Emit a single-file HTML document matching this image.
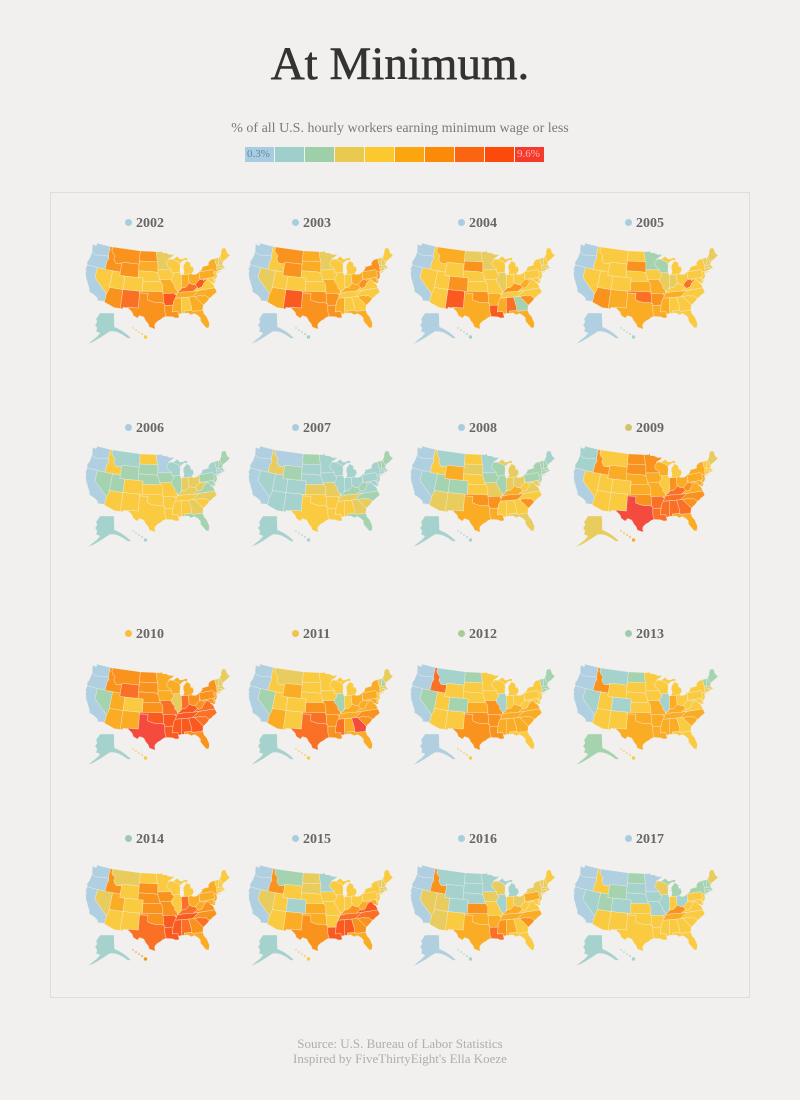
<!DOCTYPE html>
<html>
<head>
<meta charset="utf-8">
<style>
  html,body{margin:0;padding:0;}
  body{width:800px;height:1100px;background:#f1f0ee;position:relative;overflow:hidden;font-family:"Liberation Serif",serif;}
  .abs{position:absolute;}
  #title{left:0;width:800px;top:36px;text-align:center;font-size:47px;color:#333;line-height:56px;-webkit-text-stroke:0.6px #333;}
  #sub{left:0;width:800px;top:120px;text-align:center;font-size:14px;color:#7a7a7a;line-height:17px;}
  #legend{left:245px;top:147px;height:15px;width:300px;}
  #legend div{position:absolute;top:0;width:29px;height:15px;}
  .lt{position:absolute;top:0;font-size:11px;line-height:15px;}
  #panel{left:50px;top:192px;width:698px;height:804px;border:1px solid #e0ddd9;}
  .yl{position:absolute;font-size:14px;font-weight:bold;color:#666;line-height:16px;white-space:nowrap;}
  .yl span{display:inline-block;width:7px;height:7px;border-radius:50%;margin-right:4px;vertical-align:1px;}
  .foot{left:0;width:800px;text-align:center;font-size:13px;color:#b0adaa;line-height:15px;}
  svg{position:absolute;left:0;top:0;}
</style>
</head>
<body>
<div id="title" class="abs">At Minimum.</div>
<div id="sub" class="abs">% of all U.S. hourly workers earning minimum wage or less</div>
<div id="legend" class="abs">
  <div style="left:0;background:#a9cde0"></div>
  <div style="left:30px;background:#9ecfcb"></div>
  <div style="left:60px;background:#9dd0a9"></div>
  <div style="left:90px;background:#e9c94f"></div>
  <div style="left:120px;background:#fbc82e"></div>
  <div style="left:150px;background:#fba50f"></div>
  <div style="left:180px;background:#fb8a08"></div>
  <div style="left:210px;background:#fb6410"></div>
  <div style="left:240px;background:#fb4a0a"></div>
  <div style="left:270px;background:#f53a2c"></div>
  <span class="lt" style="left:2px;color:#5f88a3">0.3%</span>
  <span class="lt" style="left:272px;color:#fbb8b0">9.6%</span>
</div>
<div id="panel" class="abs"></div>

<div class="yl" style="left:125px;top:216px"><span style="background:#a9cde0"></span>2002</div>
<div class="yl" style="left:292px;top:216px"><span style="background:#a9cde0"></span>2003</div>
<div class="yl" style="left:458px;top:216px"><span style="background:#a9cde0"></span>2004</div>
<div class="yl" style="left:625px;top:216px"><span style="background:#a9cde0"></span>2005</div>
<div class="yl" style="left:125px;top:421px"><span style="background:#a9cde0"></span>2006</div>
<div class="yl" style="left:292px;top:421px"><span style="background:#a9cde0"></span>2007</div>
<div class="yl" style="left:458px;top:421px"><span style="background:#a9cde0"></span>2008</div>
<div class="yl" style="left:625px;top:421px"><span style="background:#d2c46a"></span>2009</div>
<div class="yl" style="left:125px;top:627px"><span style="background:#f8c03a"></span>2010</div>
<div class="yl" style="left:292px;top:627px"><span style="background:#f2c24a"></span>2011</div>
<div class="yl" style="left:458px;top:627px"><span style="background:#a8cc98"></span>2012</div>
<div class="yl" style="left:625px;top:627px"><span style="background:#9ccbb0"></span>2013</div>
<div class="yl" style="left:125px;top:832px"><span style="background:#9dcab8"></span>2014</div>
<div class="yl" style="left:292px;top:832px"><span style="background:#a9cde0"></span>2015</div>
<div class="yl" style="left:458px;top:832px"><span style="background:#a9cde0"></span>2016</div>
<div class="yl" style="left:625px;top:832px"><span style="background:#a9cde0"></span>2017</div>

<div class="abs foot" style="top:1036px">Source: U.S. Bureau of Labor Statistics</div>
<div class="abs foot" style="top:1051px">Inspired by FiveThirtyEight's Ella Koeze</div>

<svg id="maps" width="800" height="1100" viewBox="0 0 800 1100" xmlns="http://www.w3.org/2000/svg"></svg>

<script>
(function(){
var K="WA OR CA NV ID MT WY UT CO AZ NM ND SD NE KS OK TX MN IA MO AR LA WI IL MI IN OH KY WV TN MS AL GA FL SC NC VA MD DE PA NJ NY CT RI MA VT NH ME".split(" ");
var G={
WA:"-124,46.3 -122.8,45.6 -121,45.6 -119,46 -116.9,46 -117.04,47 -117.04,49 -123.3,49 -122.8,48.5 -123.2,48.2 -124.7,48.4 -124.2,47",
OR:"-124.6,42.8 -124.2,42 -120,42 -117.03,42 -117.03,44.3 -116.5,45.5 -116.9,46 -119,46 -121,45.6 -122.8,45.6 -124,46.3 -123.9,45.5 -124.1,44",
CA:"-124.2,42 -120,42 -120,39 -114.6,35 -114.6,34.2 -114.7,32.7 -117.1,32.5 -117.3,33.2 -118.4,33.8 -119.2,34.1 -120.6,34.5 -120.9,35.4 -121.9,36.6 -122.5,37.5 -123,38 -123.8,39.5 -123.9,40.5 -124.4,40.4 -124.2,41.5",
NV:"-120,42 -114.04,42 -114.04,36.2 -114.6,35 -120,39",
ID:"-117.04,49 -116.05,49 -116.05,47.98 -115.7,47.4 -114.3,46.6 -114.5,45.5 -113.4,44.4 -112.4,44.4 -111.05,44.5 -111.05,42 -117.03,42 -117.03,44.3 -116.5,45.5 -116.9,46 -117.04,47",
MT:"-116.05,49 -104.05,49 -104.05,45 -111.05,45 -111.05,44.5 -112.4,44.4 -113.4,44.4 -114.5,45.5 -114.3,46.6 -115.7,47.4 -116.05,47.98",
WY:"-111.05,45 -104.05,45 -104.05,41 -111.05,41",
UT:"-114.04,42 -111.05,42 -111.05,41 -109.05,41 -109.05,37 -114.04,37",
CO:"-109.05,41 -102.05,41 -102.05,37 -109.05,37",
AZ:"-114.04,37 -109.05,37 -109.05,31.33 -111.07,31.33 -114.8,32.5 -114.7,32.7 -114.6,34.2 -114.6,35 -114.04,36.2",
NM:"-109.05,37 -103,37 -103,32 -106.62,32 -106.5,31.78 -108.2,31.78 -108.2,31.33 -109.05,31.33",
ND:"-104.05,49 -97.23,49 -96.8,46.6 -96.56,45.93 -104.05,45.94",
SD:"-104.05,45.94 -96.56,45.93 -96.45,45.3 -96.45,43.5 -96.6,42.7 -97,42.8 -98.5,43 -104.05,43",
NE:"-104.05,43 -98.5,43 -97,42.8 -96.6,42.7 -96.4,42.5 -96,41.5 -95.8,40.6 -95.3,40 -102.05,40 -102.05,41 -104.05,41",
KS:"-102.05,40 -95.3,40 -94.62,39.1 -94.62,37 -102.05,37",
OK:"-103,37 -94.62,37 -94.43,35.4 -94.48,33.64 -95.5,33.9 -96.5,33.8 -97.5,33.9 -98.5,34.1 -100,34.56 -100,36.5 -103,36.5",
TX:"-106.62,32 -103,32 -103,36.5 -100,36.5 -100,34.56 -98.5,34.1 -97.5,33.9 -96.5,33.8 -95.5,33.9 -94.48,33.64 -94.04,33.55 -94.04,31 -93.7,30.1 -93.8,29.7 -94.7,29.4 -95.5,28.8 -96.5,28.3 -97.3,27.5 -97.4,26.8 -97.15,25.95 -97.7,26.05 -99.1,26.5 -99.5,27.5 -100.3,28.3 -101,29.4 -102.4,29.8 -103.1,29 -104.5,29.7 -105,30.7 -106.5,31.78",
MN:"-97.23,49 -95.15,49 -95.15,49.38 -94.8,49.3 -94.6,48.7 -93,48.6 -91.5,48.05 -89.5,48 -90.7,47.3 -92.1,46.75 -92.3,46.1 -92.9,45.6 -92.7,44.7 -91.2,43.8 -91.2,43.5 -96.45,43.5 -96.45,45.3 -96.56,45.93 -96.8,46.6",
IA:"-96.45,43.5 -91.2,43.5 -91.1,42.7 -90.64,42.5 -90.2,42.1 -90.4,41.6 -91,41.2 -91.4,40.4 -91.7,40.6 -95.8,40.6 -96,41.5 -96.4,42.5 -96.6,42.7",
MO:"-95.8,40.6 -91.7,40.6 -91.4,40.4 -91,39.6 -90.2,38.9 -90.2,38 -89.5,37.4 -89.5,37.2 -89.2,36.6 -89.5,36.5 -89.7,36 -90.4,36 -90.15,36.5 -94.62,36.5 -94.62,39.1 -95.3,40",
AR:"-94.62,36.5 -90.15,36.5 -90.4,36 -89.7,36 -90.3,35 -91,34 -91.2,33 -94.04,33 -94.04,33.55 -94.48,33.64 -94.43,35.4",
LA:"-94.04,33 -91.2,33 -91.6,31 -89.75,31 -89.6,30.2 -89.4,29.2 -90.5,29.1 -91.5,29.5 -92.3,29.6 -93.8,29.7 -93.7,30.1 -94.04,31",
WI:"-92.9,45.6 -92.3,46.1 -92.1,46.7 -90.4,46.6 -89.1,46.1 -88.1,45.8 -87.6,45.1 -87.5,44.5 -87.8,43.2 -87.8,42.5 -90.64,42.5 -91.1,42.7 -91.2,43.5 -91.2,43.8 -92.7,44.7",
IL:"-90.64,42.5 -87.8,42.5 -87.5,41.7 -87.53,39.4 -87.6,38.7 -88,37.8 -88.1,37.5 -88.5,37.1 -89.1,37 -89.5,37.2 -89.5,37.4 -90.2,38 -90.2,38.9 -91,39.6 -91.4,40.4 -91,41.2 -90.4,41.6 -90.2,42.1",
MI:"-86.8,41.76 -84.8,41.76 -83.45,41.73 -83.1,42.1 -82.5,42.6 -82.4,43 -82.6,43.9 -83.4,44 -83.3,45 -84.7,45.8 -85.4,45.2 -86.2,44.6 -86.4,43.6 -86.2,42.6|-90.4,46.6 -89.1,46.1 -88.1,45.8 -87.6,45.1 -86.5,45.8 -85.5,46.1 -84.7,45.9 -84.1,46.5 -85,46.75 -86.5,46.45 -87.4,46.5 -88.4,47.4 -89.6,46.8",
IN:"-87.5,41.7 -86.8,41.76 -84.8,41.76 -84.8,39.1 -85.9,38.2 -86.5,37.9 -87.6,37.9 -88,37.8 -87.6,38.7 -87.53,39.4",
OH:"-84.8,41.76 -83.45,41.73 -82.7,41.45 -81.5,41.5 -80.52,41.98 -80.52,40.64 -80.65,40.4 -80.9,39.6 -81.7,39.2 -82.6,38.4 -83.7,38.6 -84.8,39.1",
KY:"-89.5,36.5 -88.05,36.5 -88.07,36.68 -83.7,36.6 -82,37.5 -82.6,38.4 -83.7,38.6 -84.8,39.1 -85.9,38.2 -86.5,37.9 -87.6,37.9 -88.1,37.5 -88.5,37.1 -89.1,37 -89.2,36.6",
WV:"-82.6,38.4 -82,37.5 -81.7,37.2 -80.3,37.5 -79.5,38.5 -78.4,39.2 -77.8,39.3 -78.4,39.6 -79.48,39.72 -80.52,39.72 -80.52,40.64 -80.65,40.4 -80.9,39.6 -81.7,39.2",
TN:"-90.3,35 -84.3,35 -81.7,36.6 -83.7,36.6 -88.07,36.68 -88.05,36.5 -89.5,36.5 -89.7,36",
MS:"-90.3,35 -88.2,35 -88.5,31.9 -88.4,30.4 -89.6,30.2 -89.75,31 -91.6,31 -91.2,33 -91,34",
AL:"-88.2,35 -85.6,35 -85,32 -85,31 -87.6,31 -87.5,30.3 -88.4,30.4 -88.5,31.9",
GA:"-85.6,35 -83.1,35 -83.3,34.7 -82.2,33.6 -81,32.1 -81.4,30.7 -82.2,30.57 -84.86,30.7 -85,31 -85,32",
FL:"-87.6,31 -85,31 -84.86,30.7 -82.2,30.57 -81.4,30.7 -81.2,29.5 -80.5,28.5 -80,26.5 -80.4,25.2 -81.2,25.2 -81.8,26.1 -82.7,27.5 -82.6,28.5 -83.3,29.3 -84.3,30 -85.4,29.7 -86.5,30.4 -87.5,30.3",
SC:"-83.1,35 -80.9,35.1 -80.8,34.8 -79.7,34.8 -78.5,33.85 -79.2,33.2 -80.8,32.2 -81,32.1 -82.2,33.6 -83.3,34.7",
NC:"-84.3,35 -83.1,35 -80.9,35.1 -80.8,34.8 -79.7,34.8 -78.5,33.85 -77.9,34 -77,34.6 -76.5,34.7 -75.5,35.3 -75.9,36.55 -81.7,36.6",
VA:"-83.7,36.6 -75.9,36.55 -76,37.2 -76.3,37.9 -77,38.4 -77.1,38.9 -77.5,39.2 -77.8,39.3 -78.4,39.2 -79.5,38.5 -80.3,37.5 -81.7,37.2 -82,37.5",
MD:"-79.48,39.72 -75.79,39.72 -75.7,38.46 -75.05,38.45 -75.3,38 -76,37.95 -76.4,38.3 -77,38.4 -77.1,38.9 -77.5,39.2 -77.8,39.3 -78.4,39.6 -79.48,39.2",
DE:"-75.79,39.72 -75.4,39.8 -75.05,38.45 -75.7,38.46",
PA:"-80.52,39.72 -80.52,41.98 -79.76,42.27 -79.76,42 -75.35,42 -74.7,41.35 -75.1,40.8 -74.7,40.15 -75.4,39.8 -75.79,39.72",
NJ:"-74.7,41.35 -73.9,41 -74,40.7 -74,40.3 -74.1,39.7 -74.9,38.93 -75.5,39.6 -74.7,40.15 -75.1,40.8",
NY:"-79.76,42 -79.76,42.27 -79,42.9 -79,43.3 -76.3,43.5 -76.2,44.2 -75,44.9 -73.35,45.01 -73.4,43.6 -73.26,42.75 -73.5,42.05 -73.65,41 -73.9,41 -74.7,41.35 -75.35,42|-74,40.6 -72,40.95 -71.9,41.1 -73.7,40.9",
CT:"-73.5,42.05 -71.8,42.02 -71.85,41.32 -72.9,41.25 -73.65,41",
RI:"-71.8,42.02 -71.85,41.32 -71.1,41.5 -71.4,42.02",
MA:"-73.5,42.05 -73.26,42.75 -71.3,42.7 -70.6,42.65 -70.9,42.3 -70.5,41.8 -70,41.75 -70.65,41.55 -71.1,41.5 -71.4,42.02 -71.8,42.02",
VT:"-73.26,42.75 -72.46,42.73 -72.3,43.5 -72,44.3 -71.5,45.01 -73.35,45.01 -73.4,43.6",
NH:"-72.46,42.73 -71.3,42.7 -70.7,43.05 -70.98,43.8 -71.08,45.3 -71.5,45.01 -72,44.3 -72.3,43.5",
ME:"-70.7,43.05 -70.2,43.7 -69,44 -68,44.4 -67,44.8 -67.8,45.7 -67.8,47.06 -68.3,47.35 -69.2,47.45 -70,46.7 -70.3,45.9 -71.08,45.3 -70.98,43.8"
};
var Y=[
"0 0 0 4 6 6 6 4 4 6 7 6 5 4 4 6 6 3 4 5 8 6 4 4 4 5 5 7 8 5 5 4 5 5 5 5 4 4 4 5 4 5 3 3 3 3 3 4 1 4",
"0 0 0 3 4 6 6 4 4 5 8 5 5 4 4 6 6 3 4 5 6 6 4 4 4 4 5 5 6 4 5 4 4 5 5 4 4 5 5 5 6 6 3 3 3 3 3 4 0 2",
"0 0 0 4 4 5 4 4 6 4 8 3 6 4 4 6 5 3 4 4 5 8 4 3 4 4 4 6 5 4 5 7 2 5 6 4 4 4 4 4 4 4 3 3 3 3 4 4 0 2",
"0 0 0 4 4 4 4 4 4 6 5 4 6 4 5 7 5 2 4 5 6 5 2 3 4 3 4 4 7 5 5 4 4 4 4 4 4 4 4 4 4 4 3 3 3 3 3 3 0 1",
"0 0 0 2 4 1 2 2 4 4 4 4 2 2 4 4 4 0 2 4 4 4 1 2 1 3 3 3 3 4 4 4 3 2 4 3 2 2 2 2 2 1 1 1 1 2 2 2 1 1",
"0 0 0 1 3 0 2 1 1 1 1 2 1 1 3 4 4 1 1 3 4 4 1 1 1 1 1 2 2 3 4 4 3 2 3 2 1 1 1 1 1 1 1 1 1 2 2 2 1 1",
"0 0 0 1 4 1 5 2 2 3 3 4 3 4 4 6 5 1 2 3 6 5 2 2 3 3 3 5 4 6 4 4 4 3 6 4 3 3 3 2 2 2 2 2 2 2 2 1 1 1",
"1 1 0 4 6 4 5 4 4 4 4 6 6 5 5 6 9 6 5 5 7 7 5 4 4 6 5 7 6 7 7 7 7 5 6 6 5 5 5 5 5 5 4 4 4 4 4 3 3 5",
"0 0 0 2 6 6 7 5 4 5 5 6 6 6 6 8 9 5 5 7 8 8 5 3 5 7 6 8 6 8 8 8 8 6 7 7 7 6 6 6 5 6 3 3 3 3 3 3 1 4",
"0 0 0 2 4 3 5 4 4 5 4 4 4 4 6 7 7 4 4 6 6 6 4 2 4 4 5 5 5 5 7 5 9 5 6 6 5 5 5 5 4 5 3 3 3 3 2 3 1 4",
"0 0 0 2 7 1 4 4 2 4 4 2 4 4 5 6 6 4 4 6 6 6 4 1 4 4 4 5 4 5 5 5 5 4 5 5 5 4 4 4 4 4 2 2 2 2 2 2 0 4",
"0 0 0 1 6 1 4 4 1 4 4 2 4 4 4 5 5 4 4 5 5 5 4 1 4 5 4 5 4 5 5 5 4 4 5 5 4 4 4 4 4 4 3 3 3 2 2 2 2 4",
"0 0 0 3 6 3 4 5 4 4 4 4 6 6 6 6 7 4 6 6 8 8 4 4 4 7 5 7 5 8 8 7 6 5 7 6 6 5 5 5 5 5 4 4 4 4 4 4 1 6",
"0 0 0 3 6 2 4 4 1 4 5 3 3 4 5 5 6 1 4 4 4 8 4 4 4 4 4 6 5 7 8 8 6 5 6 7 8 5 4 4 4 4 3 3 3 3 3 4 1 4",
"0 0 0 3 6 1 1 3 1 3 4 1 1 1 6 5 5 1 3 4 5 7 3 1 1 4 3 5 4 5 6 5 4 4 6 5 4 4 4 5 3 3 3 3 3 3 3 4 0 1",
"0 0 0 1 4 0 2 2 1 4 4 2 1 1 4 4 4 0 1 1 4 4 3 1 2 4 1 6 4 5 4 4 4 4 4 4 4 4 4 4 4 2 2 2 2 2 2 3 1 1"
];
var COL=["#a9cde0","#9ecfcb","#9dd0a9","#e9c94f","#fbc82e","#fba50f","#fb8a08","#fb6410","#fb4a0a","#f53a2c"];
var rad=Math.PI/180,p1=29.5*rad,p2=45.5*rad,p0=37.5*rad,l0=-96*rad;
var n=(Math.sin(p1)+Math.sin(p2))/2;
var C=Math.cos(p1)*Math.cos(p1)+2*n*Math.sin(p1);
var r0=Math.sqrt(C-2*n*Math.sin(p0))/n;
function proj(lon,lat){var r=Math.sqrt(C-2*n*Math.sin(lat*rad))/n;var t=n*(lon*rad-l0);return [r*Math.sin(t),r*Math.cos(t)-r0];}
var P={},minx=1e9,maxx=-1e9,miny=1e9,maxy=-1e9;
K.forEach(function(k){
  P[k]=G[k].split("|").map(function(ring){
    return ring.trim().split(/\s+/).map(function(s){
      var a=s.split(",");var q=proj(+a[0],+a[1]);
      if(q[0]<minx)minx=q[0];if(q[0]>maxx)maxx=q[0];if(q[1]<miny)miny=q[1];if(q[1]>maxy)maxy=q[1];
      return q;});
  });
});
var W=145,H=86,sx=W/(maxx-minx),sy=H/(maxy-miny);
var lefts=[85,248,410,573],tops=[243,446,664,865];
var AK=[[15,70],[29,70],[29.5,84],[31,84.5],[36,87],[41,90.5],[46,95],[43,95.5],[38,92],[33,89.5],[29,88.5],[25,88.5],[21,91],[15,95],[8,99],[3,101],[7,97.5],[12,93.5],[15,90],[11,88.5],[12,85],[10,82],[12,79],[11,76],[13,73]];
var HI=[[48,85,0.7],[51,87,0.8],[54,89,0.8],[57,91,0.9],[60.5,94,1.7]];
var out=[];
for(var i=0;i<16;i++){
  var L=lefts[i%4],T=tops[Math.floor(i/4)];
  var codes=Y[i].split(" ").map(Number);
  out.push('<g opacity="0.9" stroke="#f2efe9" stroke-width="0.35" stroke-linejoin="round">');
  K.forEach(function(k,j){
    var d=P[k].map(function(ring){
      return "M"+ring.map(function(q){return (L+(q[0]-minx)*sx).toFixed(2)+","+(T+(q[1]-miny)*sy).toFixed(2);}).join("L")+"Z";
    }).join("");
    out.push('<path d="'+d+'" fill="'+COL[codes[j]]+'"/>');
  });
  var ad="M"+AK.map(function(q){return (L+q[0]).toFixed(2)+","+(T+q[1]).toFixed(2);}).join("L")+"Z";
  out.push('<path d="'+ad+'" fill="'+COL[codes[48]]+'"/>');
  HI.forEach(function(h){out.push('<circle cx="'+(L+h[0])+'" cy="'+(T+h[1])+'" r="'+h[2]+'" fill="'+COL[codes[49]]+'" stroke="none"/>');});
  out.push('</g>');
}
document.getElementById("maps").innerHTML=out.join("");
})();
</script>
</body>
</html>
